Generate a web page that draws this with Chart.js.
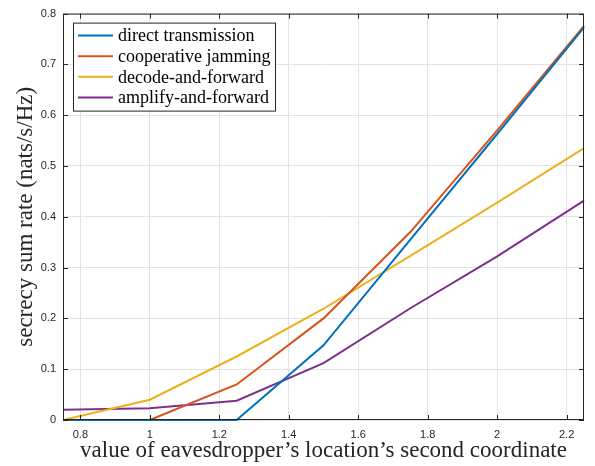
<!DOCTYPE html>
<html>
<head>
<meta charset="utf-8">
<script src="https://cdn.jsdelivr.net/npm/chart.js@4.4.0/dist/chart.umd.min.js"></script>
<style>
    html, body { margin: 0; padding: 0; background: #fff; }
    #wrap { width: 595px; height: 466px; }
</style>
</head>
<body>
<div id="wrap"><canvas id="rateChart" width="595" height="466"></canvas></div>
<script>
var positions = [0.75, 1, 1.25, 1.5, 1.75, 2, 2.25];
var seriesNames = ["direct transmission", "cooperative jamming", "decode-and-forward", "amplify-and-forward"];
var directTx = [0, 0, 0, 0.147, 0.355, 0.563, 0.773];
var coopJamming = [0, 0, 0.07, 0.2, 0.37, 0.57, 0.776];
var decodeForward = [0, 0.04, 0.125, 0.219, 0.323, 0.428, 0.535];
var amplifyForward = [0.02, 0.023, 0.038, 0.112, 0.22, 0.322, 0.432];
var xTicks = [0.8, 1, 1.2, 1.4, 1.6, 1.8, 2, 2.2];
var yTicks = [0, 0.1, 0.2, 0.3, 0.4, 0.5, 0.6, 0.7, 0.8];
var colors = ["#0072BD", "#D95319", "#EDB120", "#7E2F8E"];

var serif = "'Liberation Serif', 'DejaVu Serif', serif";
var sans = "'Liberation Sans', Arial, sans-serif";

function toPoints(vals) {
    return vals.map(function(v, i) { return { x: positions[i], y: v }; });
}

var allSeries = [directTx, coopJamming, decodeForward, amplifyForward];
var datasets = allSeries.map(function(vals, i) {
    return {
        label: seriesNames[i],
        data: toPoints(vals),
        borderColor: colors[i],
        backgroundColor: colors[i],
        borderWidth: 2,
        pointRadius: 0,
        tension: 0,
        clip: 3
    };
});

// box, inward ticks and legend box like the matlab figure
var frameAndLegend = {
    id: "frameAndLegend",
    afterDraw: function(chart) {
        var ctx = chart.ctx;
        var a = chart.chartArea;
        var xs = chart.scales.x, ys = chart.scales.y;
        ctx.save();
        ctx.strokeStyle = "#262626";
        ctx.lineWidth = 1;
        ctx.strokeRect(a.left + 0.5, a.top + 0.5, a.right - a.left - 1, a.bottom - a.top - 1);
        ctx.beginPath();
        xTicks.forEach(function(t) {
            var px = Math.round(xs.getPixelForValue(t)) + 0.5;
            ctx.moveTo(px, a.bottom); ctx.lineTo(px, a.bottom - 5);
            ctx.moveTo(px, a.top); ctx.lineTo(px, a.top + 5);
        });
        yTicks.forEach(function(t) {
            var py = Math.round(ys.getPixelForValue(t)) + 0.5;
            ctx.moveTo(a.left, py); ctx.lineTo(a.left + 5, py);
            ctx.moveTo(a.right, py); ctx.lineTo(a.right - 5, py);
        });
        ctx.stroke();

        // legend
        var lx = a.left + 10, ly = a.top + 9, lw = 202, lh = 88;
        ctx.fillStyle = "#fff";
        ctx.fillRect(lx, ly, lw, lh);
        ctx.strokeStyle = "#262626";
        ctx.strokeRect(lx + 0.5, ly + 0.5, lw, lh);
        ctx.font = "18px " + serif;
        ctx.textBaseline = "middle";
        ctx.textAlign = "left";
        seriesNames.forEach(function(name, i) {
            var yy = ly + 13 + i * 20.6;
            ctx.strokeStyle = colors[i];
            ctx.lineWidth = 2;
            ctx.beginPath();
            ctx.moveTo(lx + 5, yy); ctx.lineTo(lx + 40, yy);
            ctx.stroke();
            ctx.fillStyle = "#000";
            ctx.fillText(name, lx + 45, yy + 1);
        });
        ctx.restore();
    }
};

new Chart(document.getElementById("rateChart"), {
    type: "line",
    data: { datasets: datasets },
    options: {
        responsive: false,
        animation: false,
        layout: { padding: { top: 9, right: 11, left: 0, bottom: 0 } },
        plugins: { legend: { display: false }, tooltip: { enabled: false } },
        scales: {
            x: {
                type: "linear",
                min: 0.75,
                max: 2.25,
                afterBuildTicks: function(s) { s.ticks = xTicks.map(function(v) { return { value: v }; }); },
                afterFit: function(s) { s.height = 46; },
                grid: { color: "#e3e3e3", drawTicks: false },
                border: { display: false },
                ticks: {
                    padding: 8,
                    color: "#262626",
                    font: { family: sans, size: 11 },
                    callback: function(v) { return String(v); }
                },
                title: {
                    display: true,
                    text: "value of eavesdropper\u2019s location\u2019s second coordinate",
                    color: "#262626",
                    font: { family: serif, size: 23 },
                    padding: { top: 0, bottom: 1 }
                }
            },
            y: {
                min: 0,
                max: 0.8,
                afterBuildTicks: function(s) { s.ticks = yTicks.map(function(v) { return { value: v }; }); },
                afterFit: function(s) { s.width = 63; },
                grid: { color: "#e3e3e3", drawTicks: false },
                border: { display: false },
                ticks: {
                    padding: 7,
                    color: "#262626",
                    font: { family: sans, size: 11 },
                    callback: function(v) { return String(v); }
                },
                title: {
                    display: true,
                    text: "secrecy sum rate (nats/s/Hz)",
                    color: "#262626",
                    font: { family: serif, size: 23 },
                    padding: { top: 12, bottom: 0 }
                }
            }
        }
    },
    plugins: [frameAndLegend]
});
</script>
</body>
</html>
